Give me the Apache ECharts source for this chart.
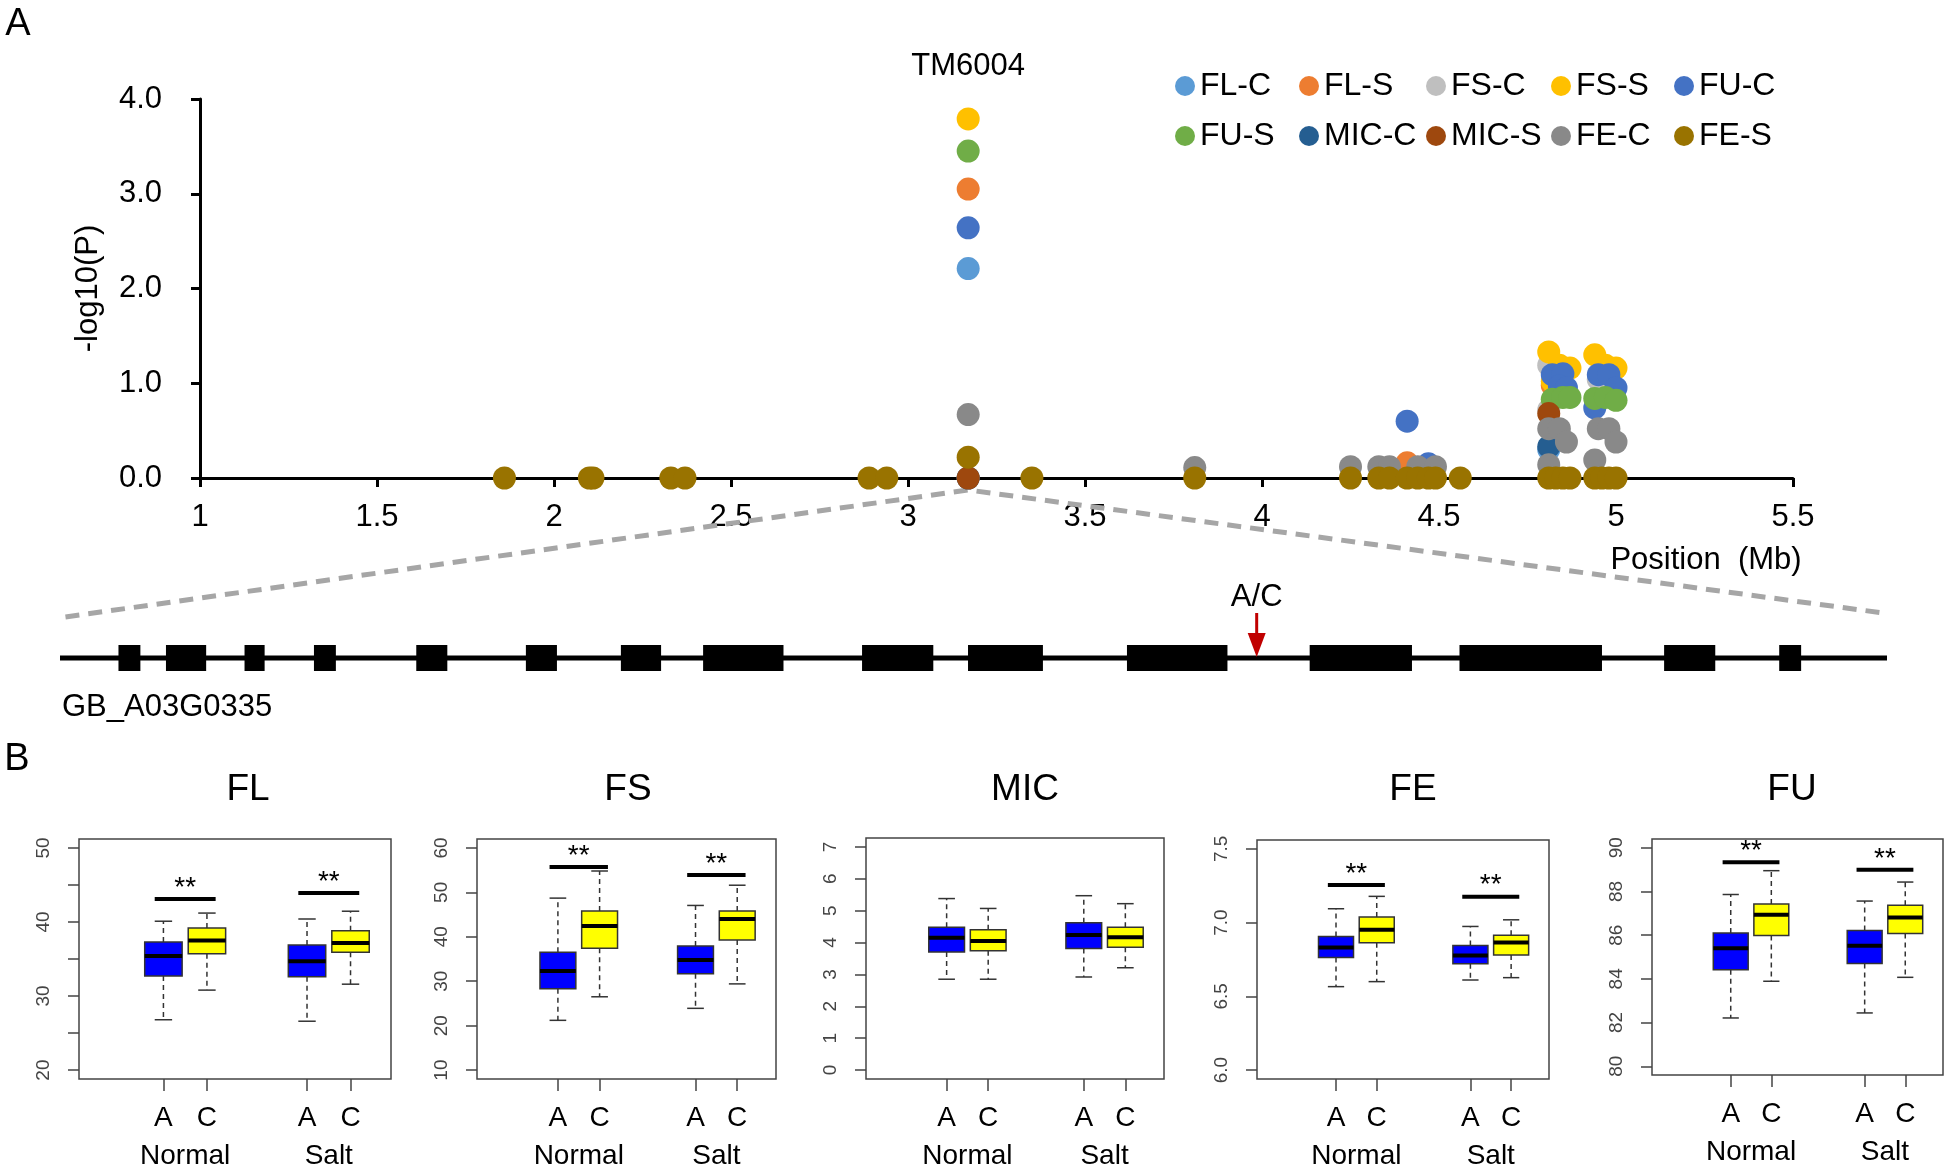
<!DOCTYPE html>
<html>
<head>
<meta charset="utf-8">
<script src="https://cdn.jsdelivr.net/npm/echarts@6/dist/echarts.min.js"></script>
<style>
html, body { margin: 0; padding: 0; background: #fff; }
#main { width: 1946px; height: 1170px; }
</style>
</head>
<body>
<div id="main"></div>
<script>
// ---------- A: association scan (Position Mb, -log10 P) ----------
var traitNames = ['FL-C', 'FL-S', 'FS-C', 'FS-S', 'FU-C', 'FU-S', 'MIC-C', 'MIC-S', 'FE-C', 'FE-S'];
var traitColors = ['#5B9BD5', '#ED7D31', '#BFBFBF', '#FFC000', '#4472C4', '#70AD47', '#255E91', '#9E480E', '#898989', '#997300'];

var FL_C = [[3.17, 2.21], [4.81, 0.30], [4.45, 0.08]];
var FL_S = [[3.17, 3.05], [4.41, 0.16], [4.82, 0.98], [4.96, 0.92]];
var FS_C = [[3.17, 0], [4.81, 1.19], [4.81, 0.72], [4.95, 1.04]];
var FS_S = [[3.17, 3.79], [4.81, 1.33], [4.84, 1.19], [4.87, 1.16], [4.82, 1.02], [4.94, 1.30], [4.97, 1.19], [5.00, 1.16]];
var FU_C = [[3.17, 2.64], [4.41, 0.60], [4.47, 0.15], [4.82, 1.09], [4.85, 1.10], [4.84, 0.97], [4.86, 0.95], [4.95, 1.09], [4.98, 1.09], [5.00, 0.95], [4.94, 0.74]];
var FU_S = [[3.17, 3.45], [4.82, 0.83], [4.85, 0.85], [4.87, 0.85], [4.94, 0.84], [4.97, 0.85], [5.00, 0.82]];
var MIC_C = [[3.17, 0], [4.81, 0.33]];
var MIC_S = [[3.17, 0], [4.81, 0.68]];
var FE_C = [[3.17, 0.67], [3.81, 0.11], [4.25, 0.12], [4.33, 0.12], [4.36, 0.12], [4.44, 0.12], [4.49, 0.12], [4.81, 0.52], [4.84, 0.52], [4.86, 0.38], [4.81, 0.14], [4.95, 0.52], [4.98, 0.52], [5.00, 0.38], [4.94, 0.19]];
var FE_S = [[1.86, 0], [2.10, 0], [2.11, 0], [2.33, 0], [2.37, 0], [2.89, 0], [2.94, 0], [3.17, 0.22], [3.35, 0], [3.81, 0], [4.25, 0], [4.33, 0], [4.36, 0], [4.41, 0], [4.44, 0], [4.47, 0], [4.49, 0], [4.56, 0], [4.81, 0], [4.83, 0], [4.85, 0], [4.87, 0], [4.94, 0], [4.96, 0], [4.98, 0], [5.00, 0]];
var scanData = [FL_C, FL_S, FS_C, FS_S, FU_C, FU_S, MIC_C, MIC_S, FE_C, FE_S];

var leadMarker = 'TM6004';
var leadPos = 3.17;

// ---------- gene model (relative units 0-1000) ----------
var geneName = 'GB_A03G0335';
var exonStart = [32, 58, 101, 139, 195, 255, 307, 352, 439, 497, 584, 684, 766, 878, 941];
var exonEnd   = [44, 80, 112, 151, 212, 272, 329, 396, 478, 538, 639, 740, 844, 906, 953];
var snpPos = 655;
var snpLabel = 'A/C';

// ---------- B: boxplots [low whisker, Q1, median, Q3, high whisker] ----------
var boxPositions = [1, 2, 4.3, 5.3];
var alleleLabels = ['A', 'C', 'A', 'C'];
var conditionPositions = [1.5, 4.8];
var conditionLabels = ['Normal', 'Salt'];

var FL_box = [[26.8, 32.7, 35.4, 37.3, 40.1], [30.8, 35.7, 37.5, 39.2, 41.2], [26.6, 32.6, 34.7, 36.9, 40.4], [31.6, 35.9, 37.15, 38.8, 41.45]];
var FS_box = [[21.2, 28.3, 32.3, 36.5, 48.7], [26.5, 37.4, 42.4, 45.8, 54.8], [23.9, 31.7, 34.8, 37.9, 47.05], [29.4, 39.3, 44.0, 45.8, 51.6]];
var MIC_box = [[2.85, 3.70, 4.15, 4.48, 5.38], [2.85, 3.74, 4.05, 4.40, 5.07], [2.92, 3.81, 4.24, 4.62, 5.47], [3.21, 3.85, 4.17, 4.48, 5.22]];
var FE_box = [[6.566, 6.763, 6.831, 6.906, 7.094], [6.60, 6.863, 6.951, 7.038, 7.178], [6.611, 6.722, 6.777, 6.845, 6.974], [6.627, 6.781, 6.865, 6.915, 7.019]];
var FU_box = [[82.21, 84.42, 85.4, 86.1, 87.86], [83.89, 85.98, 86.93, 87.42, 88.95], [82.44, 84.70, 85.52, 86.21, 87.56], [84.07, 86.07, 86.81, 87.37, 88.43]];

// significance bar heights (Normal, Salt); null = no bar
var FL_sig = [43.1, 43.9];
var FS_sig = [55.7, 53.9];
var MIC_sig = null;
var FE_sig = [7.255, 7.176];
var FU_sig = [89.34, 88.99];

var FL_ticks = [20, 25, 30, 35, 40, 45, 50];
var FL_labels = [20, 30, 40, 50];
var FS_ticks = [10, 20, 30, 40, 50, 60];
var MIC_ticks = [0, 1, 2, 3, 4, 5, 6, 7];
var FE_ticks = [6.0, 6.5, 7.0, 7.5];
var FU_ticks = [80, 82, 84, 86, 88, 90];

var panels = [
  { title: 'FL', box: FL_box, sig: FL_sig, ymin: 18.8, ymax: 51.2, ticks: FL_ticks, labels: FL_labels, dec: 0,
    grid: { left: 79, top: 839, width: 312, height: 242 }, titleX: 248 },
  { title: 'FS', box: FS_box, sig: FS_sig, ymin: 8, ymax: 62, ticks: FS_ticks, labels: FS_ticks, dec: 0,
    grid: { left: 477, top: 839, width: 299, height: 243 }, titleX: 628 },
  { title: 'MIC', box: MIC_box, sig: MIC_sig, ymin: -0.28, ymax: 7.28, ticks: MIC_ticks, labels: MIC_ticks, dec: 0,
    grid: { left: 866, top: 838, width: 298, height: 243 }, titleX: 1025 },
  { title: 'FE', box: FE_box, sig: FE_sig, ymin: 5.94, ymax: 7.56, ticks: FE_ticks, labels: FE_ticks, dec: 1,
    grid: { left: 1257, top: 840, width: 292, height: 239 }, titleX: 1413 },
  { title: 'FU', box: FU_box, sig: FU_sig, ymin: 79.6, ymax: 90.4, ticks: FU_ticks, labels: FU_ticks, dec: 0,
    grid: { left: 1652, top: 839, width: 291, height: 236 }, titleX: 1792 }
];

var FONT = '"Liberation Sans", Arial, sans-serif';
var alleleColors = { A: '#0000FF', C: '#FFFF00' };
var boxWidth = 0.86, capWidth = 0.4, xMin = -0.94, xMax = 6.23;

var chart = echarts.init(document.getElementById('main'), null, { renderer: 'canvas' });

var grids = [{ left: 200, top: 99, width: 1593, height: 379 }];
var xAxes = [{
  gridIndex: 0, type: 'value', min: 1, max: 5.5, interval: 0.5,
  axisLine: { onZero: false, lineStyle: { color: '#000', width: 3 } },
  axisTick: { length: 9, lineStyle: { color: '#000', width: 3 } },
  axisLabel: { color: '#000', fontSize: 31, fontFamily: FONT, margin: 24 },
  splitLine: { show: false }
}];
var yAxes = [{
  gridIndex: 0, type: 'value', min: 0, max: 4, interval: 1,
  name: '-log10(P)', nameLocation: 'middle', nameGap: 96,
  nameTextStyle: { color: '#000', fontSize: 31, fontFamily: FONT },
  axisLine: { show: true, onZero: false, lineStyle: { color: '#000', width: 3 } },
  axisTick: { show: true, length: 9, lineStyle: { color: '#000', width: 3 } },
  axisLabel: { color: '#000', fontSize: 31, fontFamily: FONT, margin: 38, formatter: function (v) { return v.toFixed(1); } },
  splitLine: { show: false }
}];
var series = [];

scanData.forEach(function (d, i) {
  series.push({
    name: traitNames[i], type: 'scatter', xAxisIndex: 0, yAxisIndex: 0,
    data: d, symbol: 'circle', symbolSize: 23, clip: false,
    itemStyle: { color: traitColors[i], opacity: 1 }, z: 3 + i * 0.01
  });
});

function renderBox(params, api) {
  var x = api.value(0);
  var lo = api.coord([x, api.value(1)]);
  var q1 = api.coord([x, api.value(2)]);
  var md = api.coord([x, api.value(3)]);
  var q3 = api.coord([x, api.value(4)]);
  var hi = api.coord([x, api.value(5)]);
  var bw = api.size([boxWidth, 0])[0];
  var cw = api.size([capWidth, 0])[0];
  var cx = lo[0];
  var fill = alleleColors[alleleLabels[params.dataIndex]];
  var dash = { stroke: '#333', lineWidth: 1.5, lineDash: [5, 4] };
  var solid = { stroke: '#333', lineWidth: 1.5 };
  return { type: 'group', children: [
    { type: 'line', shape: { x1: cx, y1: q3[1], x2: cx, y2: hi[1] }, style: dash },
    { type: 'line', shape: { x1: cx, y1: q1[1], x2: cx, y2: lo[1] }, style: dash },
    { type: 'line', shape: { x1: cx - cw / 2, y1: hi[1], x2: cx + cw / 2, y2: hi[1] }, style: solid },
    { type: 'line', shape: { x1: cx - cw / 2, y1: lo[1], x2: cx + cw / 2, y2: lo[1] }, style: solid },
    { type: 'rect', shape: { x: cx - bw / 2, y: q3[1], width: bw, height: q1[1] - q3[1] }, style: { fill: fill, stroke: '#333', lineWidth: 1.5 } },
    { type: 'line', shape: { x1: cx - bw / 2, y1: md[1], x2: cx + bw / 2, y2: md[1] }, style: { stroke: '#000', lineWidth: 4 } }
  ] };
}

function renderSig(params, api) {
  var a = api.coord([api.value(0), api.value(2)]);
  var b = api.coord([api.value(1), api.value(2)]);
  return { type: 'group', children: [
    { type: 'line', shape: { x1: a[0], y1: a[1], x2: b[0], y2: b[1] }, style: { stroke: '#000', lineWidth: 4 } },
    { type: 'text', x: (a[0] + b[0]) / 2, y: a[1] - 11,
      style: { text: '**', fontSize: 28, fontFamily: FONT, fill: '#000', align: 'center', verticalAlign: 'middle' } }
  ] };
}

panels.forEach(function (p, k) {
  var g = k + 1;
  var grid = Object.assign({ show: true, borderColor: '#444', borderWidth: 1.5, backgroundColor: 'transparent' }, p.grid);
  grids.push(grid);
  var xi = xAxes.length;
  xAxes.push({
    gridIndex: g, type: 'value', min: xMin, max: xMax, position: 'bottom', offset: 0,
    axisLine: { show: false, onZero: false },
    axisTick: { show: true, customValues: boxPositions, length: 12, lineStyle: { color: '#444', width: 1.5 } },
    axisLabel: { customValues: boxPositions, color: '#000', fontSize: 28, fontFamily: FONT, margin: 25,
      formatter: function (v) { return alleleLabels[boxPositions.indexOf(v)]; } },
    splitLine: { show: false }
  });
  xAxes.push({
    gridIndex: g, type: 'value', min: xMin, max: xMax, position: 'bottom', offset: 0,
    axisLine: { show: false, onZero: false }, axisTick: { show: false },
    axisLabel: { customValues: conditionPositions, color: '#000', fontSize: 28, fontFamily: FONT, margin: 63,
      formatter: function (v) { return conditionLabels[conditionPositions.indexOf(v)]; } },
    splitLine: { show: false }
  });
  var yi = yAxes.length;
  yAxes.push({
    gridIndex: g, type: 'value', min: p.ymin, max: p.ymax, position: 'left',
    axisLine: { show: false, onZero: false },
    axisTick: { show: true, inside: false, customValues: p.ticks, length: 11, lineStyle: { color: '#444', width: 1.5 } },
    axisLabel: { customValues: p.labels, rotate: 90, color: '#444', fontSize: 19, fontFamily: FONT, margin: 26,
      formatter: (function (dec) { return function (v) { return v.toFixed(dec); }; })(p.dec) },
    splitLine: { show: false }
  });
  series.push({
    type: 'custom', xAxisIndex: xi, yAxisIndex: yi, renderItem: renderBox, clip: false,
    data: p.box.map(function (b, i) { return [boxPositions[i]].concat(b); })
  });
  if (p.sig) {
    series.push({
      type: 'custom', xAxisIndex: xi, yAxisIndex: yi, renderItem: renderSig, clip: false,
      data: p.sig.map(function (h, j) { return [boxPositions[2 * j] - 0.2, boxPositions[2 * j + 1] + 0.2, h]; })
    });
  }
});

// gene model grid
var geneGrid = grids.length;
grids.push({ left: 60, top: 645, width: 1827, height: 26 });
var geneX = xAxes.length, geneY = yAxes.length;
xAxes.push({ gridIndex: geneGrid, type: 'value', min: 0, max: 1000, show: false });
yAxes.push({ gridIndex: geneGrid, type: 'value', min: 0, max: 1, show: false });

series.push({
  type: 'custom', xAxisIndex: geneX, yAxisIndex: geneY, clip: false, data: [[0, 1000]],
  renderItem: function (params, api) {
    var a = api.coord([api.value(0), 0.5]), b = api.coord([api.value(1), 0.5]);
    return { type: 'line', shape: { x1: a[0], y1: a[1], x2: b[0], y2: b[1] }, style: { stroke: '#000', lineWidth: 5 } };
  }
});
series.push({
  type: 'custom', xAxisIndex: geneX, yAxisIndex: geneY, clip: false,
  data: exonStart.map(function (s, i) { return [s, exonEnd[i]]; }),
  renderItem: function (params, api) {
    var a = api.coord([api.value(0), 1]), b = api.coord([api.value(1), 0]);
    return { type: 'rect', shape: { x: a[0], y: a[1], width: b[0] - a[0], height: b[1] - a[1] }, style: { fill: '#000' } };
  }
});
series.push({
  type: 'custom', xAxisIndex: geneX, yAxisIndex: geneY, clip: false, data: [[snpPos]],
  renderItem: function (params, api) {
    var c = api.coord([api.value(0), 0.5]);
    var red = '#C00000';
    return { type: 'group', children: [
      { type: 'line', shape: { x1: c[0], y1: c[1] - 45, x2: c[0], y2: c[1] - 20 }, style: { stroke: red, lineWidth: 3 } },
      { type: 'polygon', shape: { points: [[c[0] - 9, c[1] - 25], [c[0] + 9, c[1] - 25], [c[0], c[1] - 1]] }, style: { fill: red } },
      { type: 'text', x: c[0], y: c[1] - 61,
        style: { text: snpLabel, fontSize: 31, fontFamily: FONT, fill: '#000', align: 'center', verticalAlign: 'middle' } }
    ] };
  }
});

// legend: one cell per trait, laid out as a 5 x 2 table
var legendColLeft = [1175, 1299, 1426, 1551, 1674];
var legendRowTop = [70, 120];
var legends = traitNames.map(function (name, i) {
  return {
    data: [name], left: legendColLeft[i % 5], top: legendRowTop[Math.floor(i / 5)], padding: 0,
    itemTextGap: 5, icon: 'circle', itemWidth: 20, itemHeight: 20, selectedMode: false,
    textStyle: { color: '#000', fontSize: 32, fontFamily: FONT }
  };
});

var option = {
  animation: false,
  backgroundColor: '#fff',
  grid: grids,
  xAxis: xAxes,
  yAxis: yAxes,
  legend: legends,
  series: series
};
chart.setOption(option);

// connectors and free text, placed through the axes
var apex = chart.convertToPixel({ xAxisIndex: 0, yAxisIndex: 0 }, [leadPos, 0]);
var gl = chart.convertToPixel({ xAxisIndex: geneX, yAxisIndex: geneY }, [3, 1]);
var gr = chart.convertToPixel({ xAxisIndex: geneX, yAxisIndex: geneY }, [998, 1]);
var top4 = chart.convertToPixel({ xAxisIndex: 0, yAxisIndex: 0 }, [leadPos, 4]);

function txt(s, x, y, size, align) {
  return { type: 'text', x: x, y: y, silent: true,
    style: { text: s, fontSize: size, fontFamily: FONT, fill: '#000', align: align || 'center', verticalAlign: 'middle',
      textAlign: align || 'center', textVerticalAlign: 'middle' } };
}

var graphics = [
  { type: 'polyline', silent: true, z: 1,
    shape: { points: [[gl[0], gl[1] - 28], [apex[0], apex[1] + 12], [gr[0], gr[1] - 32]] },
    style: { stroke: '#A6A6A6', lineWidth: 5, lineDash: [14, 9], fill: null } },
  txt('A', 18, 25, 38),
  txt('B', 17, 760, 38),
  txt(leadMarker, apex[0], top4[1] - 33, 31),
  txt('Position  (Mb)', 1706, 560, 31),
  txt(geneName, 62, 707, 31, 'left')
];
panels.forEach(function (p) { graphics.push(txt(p.title, p.titleX, 790, 37)); });
chart.setOption({ graphic: graphics });
</script>
</body>
</html>
